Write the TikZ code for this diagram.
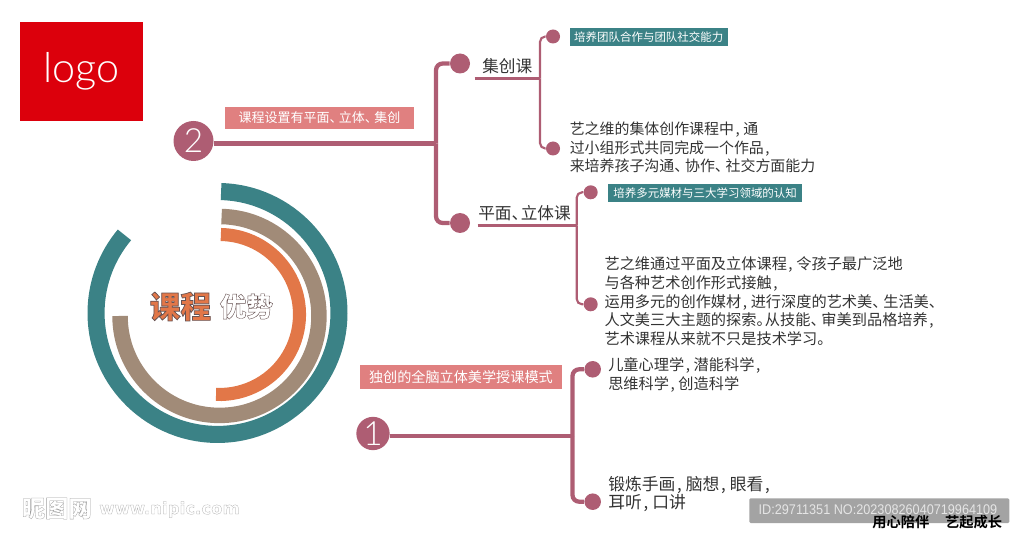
\documentclass[tikz,border=0pt]{standalone}
\usepackage{fontspec}
\setmainfont{Noto Sans CJK SC}
\newfontfamily\cjkfont{Noto Sans CJK SC}
\newfontfamily\lightfont{Lato Light}
\newfontfamily\sigfont{Noto Sans CJK SC Bold}
\newfontfamily\boldcjk[RawFeature={embolden=2.4}]{Noto Sans CJK SC Black}
\newfontfamily\boldcjkb[RawFeature={embolden=1.5}]{Noto Sans CJK SC Black}
\newfontfamily\wmcjk[RawFeature={embolden=1.2}]{Noto Sans CJK SC Black}
\newfontfamily\wmlat[RawFeature={embolden=1.2}]{DejaVu Sans Bold}
\newfontfamily\idfont{Liberation Sans}
\definecolor{teal1}{HTML}{3B8286}
\definecolor{brown1}{HTML}{A18B78}
\definecolor{orange1}{HTML}{E27748}
\definecolor{plum1}{HTML}{AE5D73}
\definecolor{pink1}{HTML}{E08080}
\definecolor{logored}{HTML}{DC000C}
\definecolor{txt}{HTML}{333333}
\newcommand{\dn}{\hbox to .72em{、\hss}}
\newcommand{\dnh}{\hbox to .55em{、\hss}}
\newcommand{\cm}{\hbox to .62em{\hskip .1em,\hss}}
\newcommand{\ju}{\hbox to .55em{。\hss}}
\newcommand{\strokergb}[1]{\special{pdf:code #1 RG}}
\tikzset{
  dotb/.style={circle,fill=plum1,inner sep=0pt,minimum size=20pt*.75},
  dots/.style={circle,fill=plum1,inner sep=0pt,minimum size=14pt*.75},
  numc/.style={circle,fill=plum1,text=white,inner sep=0pt,font=\lightfont\fontsize{25}{25}\selectfont},
  thick1/.style={draw=plum1,line width=3.6pt},
  mid1/.style={draw=plum1,line width=3.2pt,rounded corners=5pt},
  thin1/.style={draw=plum1,line width=1.6pt,rounded corners=4pt},
  pinkl/.style={fill=pink1,text=white,inner sep=0pt,anchor=north west},
  teall/.style={fill=teal1,text=white,inner sep=0pt,anchor=north west,font=\fontsize{8.6}{8.6}\selectfont},
  head/.style={anchor=west,inner sep=0pt,text=txt,font=\fontsize{12.5}{12.5}\selectfont},
  body/.style={anchor=west,inner sep=0pt,text=txt,align=left,font=\fontsize{11.4}{14}\selectfont},
  ring/.style={line cap=butt}
}
\begin{document}
\begin{tikzpicture}[x=.75pt,y=-.75pt]
\useasboundingbox (0,0) rectangle (1024,538);
% logo
\node[fill=logored,text=white,minimum width=92.25pt,minimum height=74.25pt,inner sep=0pt,anchor=north west,font=\lightfont\fontsize{31}{31}\selectfont] (logo) at (20,22) {logo};
% rings
\draw[ring,teal1,line width=12.8pt] ([shift=(-88.3:121.5)]217.5,313) arc[start angle=88.3,end angle=-220,radius=91.1pt];
\draw[ring,brown1,line width=11.6pt] ([shift=(-88.8:99.5)]219.5,316) arc[start angle=88.8,end angle=-180,radius=74.6pt];
\draw[ring,orange1,line width=9.8pt] ([shift=(-89:80)]219.5,314.5) arc[start angle=89,end angle=-92.5,radius=60pt];
\node[anchor=west,inner sep=0pt,text=orange1] (tk) at (149.5,306.5) {\boldcjk\fontsize{23}{23}\selectfont\strokergb{0.40 0.32 0.32}课程};
\node[anchor=west,inner sep=0pt,text=white] (ty) at (219.5,306.5) {\boldcjkb\fontsize{20}{20}\selectfont\strokergb{0.40 0.32 0.32}优势};
% section 2
\node[numc,minimum size=30pt] (c2) at (193.5,141) {2};
\coordinate (j2) at (436,143.5);
\node[dotb] (d21) at (460,63.5) {};
\node[dotb] (d22) at (460,223) {};
\draw[thick1] (c2.east |- j2) -- (j2);
\draw[mid1] (d21) -| (j2);
\draw[mid1] (d22) -| (j2);
\node[pinkl,minimum width=142pt,minimum height=16.5pt,font=\fontsize{9.75}{9.75}\selectfont] (l2) at (224.5,106.5) {课程设置有平面\dn 立体\dn 集创};
% 集创课
\node[head] (h1) at (482,66) {集创课};
\coordinate (u1) at (474.5,78.5);
\coordinate (j1) at (540,78.5);
\draw[thin1] (u1) -- (j1);
\node[dots] (d11) at (553,36.5) {};
\node[dots] (d12) at (553,148.5) {};
\draw[thin1] (d11) -| (j1);
\draw[thin1] (d12) -| (j1);
\node[teall,minimum width=118.5pt,minimum height=14pt] (t1) at (569.5,27.3) {培养团队合作与团队社交能力};
\node[body,font=\fontsize{11.2}{14}\selectfont] (b1) at (569.5,147.5) {艺之维的集体创作课程中\cm 通\\过小组形式共同完成一个作品\cm\\来培养孩子沟通\dn 协作\dn 社交方面能力};
% 平面立体课
\node[head] (h2) at (478,213) {平面\dnh 立体课};
\coordinate (u2) at (477.5,225.5);
\coordinate (j3) at (576.7,225.5);
\draw[thin1] (u2) -- (j3);
\node[dots] (d31) at (590.7,192.3) {};
\node[dots] (d32) at (590.7,304.3) {};
\draw[thin1] (d31) -| (j3);
\draw[thin1] (d32) -| (j3);
\node[teall,minimum width=145.3pt,minimum height=13.8pt] (t2) at (608,183.3) {培养多元媒材与三大学习领域的认知};
\node[body] (b2) at (604.3,301.5) {艺之维通过平面及立体课程\cm 令孩子最广泛地\\与各种艺术创作形式接触\cm\\运用多元的创作媒材\cm 进行深度的艺术美\dn 生活美\dn\\人文美三大主题的探索\ju 从技能\dn 审美到品格培养\cm\\艺术课程从来就不只是技术学习\hbox{。}};
% section 1
\node[numc,minimum size=25pt] (c1) at (373,433.5) {1};
\coordinate (j4) at (572.5,436);
\node[dots,minimum size=12.4pt] (d41) at (592.7,369.3) {};
\node[dots,minimum size=12.4pt] (d42) at (592.7,501.7) {};
\draw[thick1] (c1.east |- j4) -- (j4);
\draw[mid1] (d41) -| (j4);
\draw[mid1] (d42) -| (j4);
\node[pinkl,minimum width=151.4pt,minimum height=17.5pt,font=\fontsize{10.6}{10.6}\selectfont] (l1) at (359.7,365) {独创的全脑立体美学授课模式};
\node[body] (b3) at (608,375) {儿童心理学\cm 潜能科学\cm\\思维科学\cm 创造科学};
\node[body,font=\fontsize{12.6}{14}\selectfont] (b4) at (608,494) {锻炼手画\cm 脑想\cm 眼看\cm\\耳听\cm 口讲};
% watermarks
\node[anchor=west,inner sep=0pt,text=white] (w1) at (21.5,508.5) {\wmcjk\fontsize{17.5}{17.5}\selectfont\strokergb{0.62 0.62 0.62}昵图网};
\node[anchor=west,inner sep=0pt,text=white] (w2) at (99,509.5) {\wmlat\fontsize{12.4}{12.4}\selectfont\strokergb{0.62 0.62 0.62}www.nipic.com};
\node[fill=black!36,rounded corners=1pt,minimum width=195pt,minimum height=18.6pt,inner sep=0pt,anchor=north west] (idb) at (749,498) {};
\node[text=white!90!black,inner sep=0pt,font=\idfont\fontsize{10.5}{10.5}\selectfont] (idt) at (878,510) {\scalebox{.905}[1]{ID:29711351 NO:20230826040719964109}};
\node[anchor=east,inner sep=0pt,text=black,font=\sigfont\fontsize{10.7}{10.7}\selectfont] (s1) at (1002.5,522.5) {用心陪伴\hspace{1.1em}艺起成长};
\end{tikzpicture}
\end{document}
